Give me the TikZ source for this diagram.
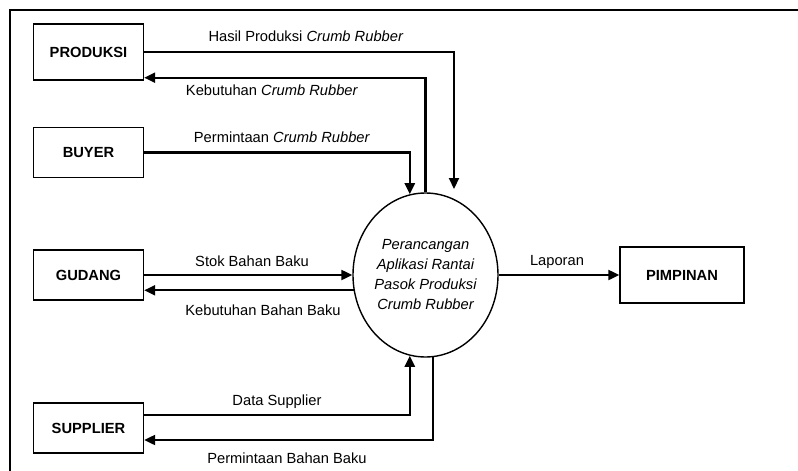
\documentclass[tikz,border=0pt]{standalone}
\usepackage{fontspec}
\setmainfont{Liberation Sans}
\usetikzlibrary{arrows.meta,shapes.geometric,calc}
\begin{document}
\begin{tikzpicture}[x=1pt,y=-1pt,
  entity/.style={draw,line width=1.4pt,minimum width=110pt,inner sep=0pt,font=\fontsize{14.7}{18}\selectfont\bfseries},
  proc/.style={draw,ellipse,line width=1.4pt,minimum width=145pt,minimum height=164pt,inner sep=0pt,align=center,font=\fontsize{14.7}{20}\selectfont\itshape},
  flow/.style={line width=2.2pt,-{Triangle[length=11pt,width=10pt]}},
  lbl/.style={anchor=base,inner sep=0pt,font=\fontsize{14.7}{18}\selectfont}]
\useasboundingbox (0,0) rectangle (798,471);
% frame
\coordinate (fbl) at (10,471);
\coordinate (ftl) at (10,10);
\coordinate (ftr) at (798,10);
\draw[line width=1.4pt] (fbl) -- (ftl) -- (ftr);
% entities
\node[entity,minimum height=56pt] (produksi) at (88.5,52) {PRODUKSI};
\node[entity,minimum height=50pt] (buyer) at (88.5,152.5) {BUYER};
\node[entity,minimum height=50pt] (gudang) at (88.5,275) {GUDANG};
\node[entity,minimum height=50pt] (supplier) at (88.5,428) {SUPPLIER};
\node[entity,minimum width=124pt,minimum height=56pt] (pimpinan) at (682,275) {PIMPINAN};
% process
\node[proc] (proc) at (425.5,275) {Perancangan\\Aplikasi Rantai\\Pasok Produksi\\Crumb Rubber};
% connectors
\coordinate (hend) at (454,189);
\draw[flow] (produksi.east) -| (hend);
\draw[flow] (proc.north) |- ($(produksi.south east)+(0,-3)$);
\draw[flow] (buyer.east) -| (proc.101.7);
\draw[flow] (gudang.east) -- (proc.west);
\draw[flow] (proc.192.7) -- (proc.192.7 -| gudang.east);
\draw[flow] (proc.east) -- (pimpinan.west);
\draw[flow] ($(supplier.east)+(0,-13)$) -| (proc.259);
\draw[flow] (proc.275.5) |- ($(supplier.east)+(0,12)$);
% labels
\node[lbl] (l1) at (306,41) {Hasil Produksi \textit{Crumb Rubber}};
\node[lbl] (l2) at (272,95) {Kebutuhan \textit{Crumb Rubber}};
\node[lbl] (l3) at (282,142) {Permintaan \textit{Crumb Rubber}};
\node[lbl] (l4) at (252,266) {Stok Bahan Baku};
\node[lbl] (l5) at (263,315) {Kebutuhan Bahan Baku};
\node[lbl] (l6) at (277,405) {Data Supplier};
\node[lbl] (l7) at (287,463) {Permintaan Bahan Baku};
\node[lbl] (l8) at (557,265) {Laporan};
\end{tikzpicture}
\end{document}
